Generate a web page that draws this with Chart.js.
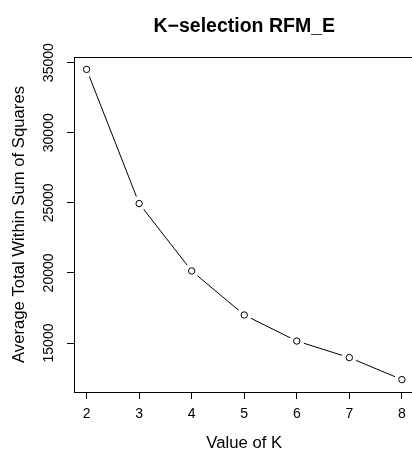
<!DOCTYPE html>
<html>
<head>
<meta charset="utf-8">
<script src="https://cdn.jsdelivr.net/npm/chart.js@4/dist/chart.umd.min.js"></script>
<style>
html, body { margin: 0; padding: 0; overflow: hidden; background: #fff; width: 412px; height: 453px; }
#wrap { width: 422px; height: 453px; }
canvas { display: block; }
</style>
</head>
<body>
<div id="wrap"><canvas id="c" width="422" height="453"></canvas></div>
<script>
// Data
const kValues = [2, 3, 4, 5, 6, 7, 8];
const avgWithinSS = [34520, 24950, 20140, 17000, 15140, 13960, 12390];
const xTickValues = [2, 3, 4, 5, 6, 7, 8];
const yTickValues = [15000, 20000, 25000, 30000, 35000];
const chartTitle = 'K\u2212selection RFM_E';
const xTitle = 'Value of K';
const yTitle = 'Average Total Within Sum of Squares';

const points = kValues.map((k, i) => ({ x: k, y: avgWithinSS[i] }));

// R-style axis extension (4% beyond data range)
const xMinData = Math.min(...kValues), xMaxData = Math.max(...kValues);
const yMinData = Math.min(...avgWithinSS), yMaxData = Math.max(...avgWithinSS);
const xPad = (xMaxData - xMinData) * 0.04;
const yPad = (yMaxData - yMinData) * 0.04;

const FONT = "'Liberation Sans', Arial, Helvetica, sans-serif";
Chart.defaults.color = '#000';
Chart.defaults.font.family = FONT;

new Chart(document.getElementById('c'), {
  type: 'line',
  data: {
    datasets: [
      {
        // open circles drawn on top
        data: points,
        showLine: false,
        pointRadius: 3.2,
        pointBorderWidth: 1,
        pointBorderColor: '#000',
        pointBackgroundColor: '#fff',
        borderColor: '#000'
      },
      {
        // connecting line with gaps around points (type = "b")
        data: points,
        showLine: true,
        borderColor: '#000',
        borderWidth: 1,
        tension: 0,
        pointRadius: 7.5,
        pointBorderWidth: 0,
        pointBackgroundColor: '#fff',
        pointBorderColor: '#fff'
      }
    ]
  },
  options: {
    responsive: false,
    animation: false,
    events: [],
    layout: { padding: { left: 0, right: 2, top: 0, bottom: 0 } },
    plugins: { legend: { display: false }, tooltip: { enabled: false }, title: { display: false } },
    scales: {
      x: {
        type: 'linear',
        position: 'bottom',
        min: xMinData - xPad,
        max: xMaxData + xPad,
        afterBuildTicks: (s) => { s.ticks = xTickValues.map(v => ({ value: v })); },
        afterFit: (s) => { s.height = 61; },
        ticks: { font: { size: 14 }, padding: 7, maxRotation: 0, color: '#000', callback: (v) => String(v) },
        grid: { drawOnChartArea: false, drawTicks: true, tickLength: 7, color: '#000', lineWidth: 1 },
        border: { display: true, color: '#000', width: 1 },
        title: { display: true, text: xTitle, font: { size: 16.7 }, padding: { top: 0, bottom: 0 }, color: '#000' }
      },
      x2: {
        type: 'linear',
        axis: 'x',
        position: 'top',
        min: xMinData - xPad,
        max: xMaxData + xPad,
        afterFit: (s) => { s.height = 57; },
        ticks: { display: false },
        grid: { display: false, drawTicks: false },
        border: { display: true, color: '#000', width: 1 },
        title: { display: true, text: chartTitle, font: { size: 19.5, weight: 'bold' }, padding: { top: 14.8, bottom: 0 }, color: '#000' }
      },
      y: {
        type: 'linear',
        position: 'left',
        min: yMinData - yPad,
        max: yMaxData + yPad,
        afterBuildTicks: (s) => { s.ticks = yTickValues.map(v => ({ value: v })); },
        afterFit: (s) => { s.width = 74; },
        ticks: { font: { size: 14 }, padding: -2, minRotation: 90, maxRotation: 90, crossAlign: 'center', color: '#000', callback: (v) => String(v) },
        grid: { drawOnChartArea: false, drawTicks: true, tickLength: 7, color: '#000', lineWidth: 1 },
        border: { display: true, color: '#000', width: 1 },
        title: { display: true, text: yTitle, font: { size: 16.7 }, padding: { top: 9.2, bottom: 0 }, color: '#000' }
      }
    }
  }
});
</script>
</body>
</html>
